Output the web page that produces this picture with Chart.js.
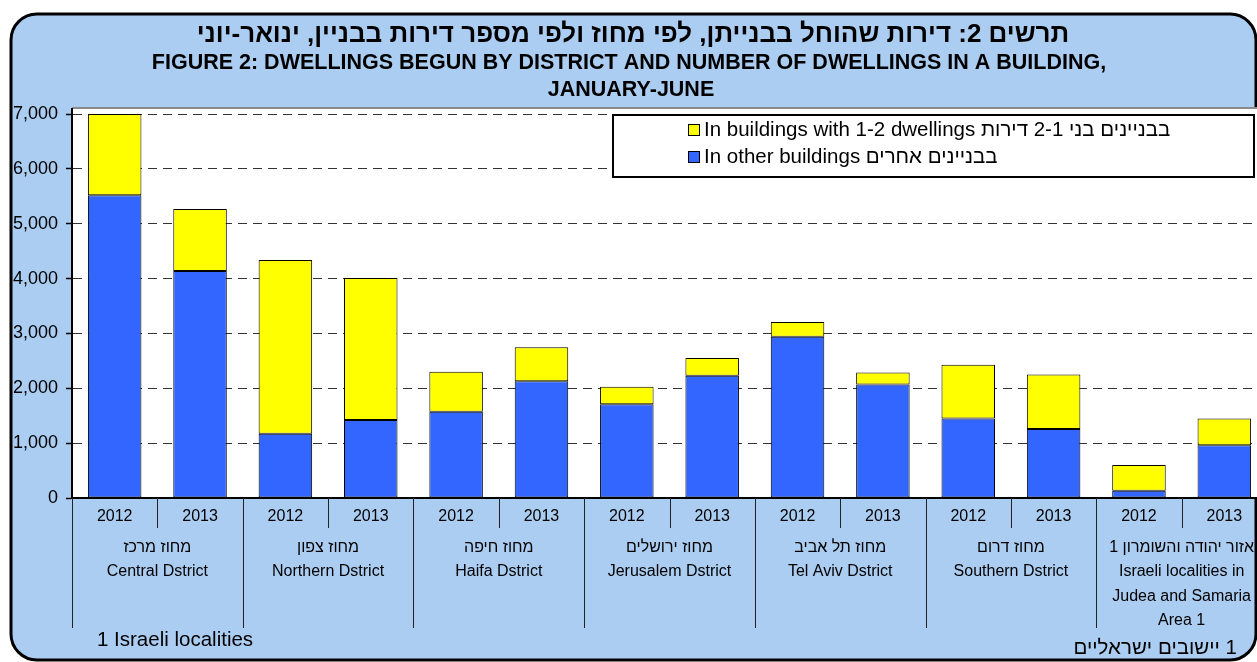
<!DOCTYPE html>
<html><head><meta charset="utf-8">
<script src="https://cdn.jsdelivr.net/npm/chart.js@4/dist/chart.umd.min.js"></script>
<style>
html,body{margin:0;padding:0;overflow:hidden;background:#fff;width:1257px;height:662px;}
#wrap{position:absolute;left:0;top:0;width:1268px;height:662px;}
</style></head><body>
<div id="wrap"><canvas id="c"></canvas></div>
<script>
const years = ['2012','2013','2012','2013','2012','2013','2012','2013','2012','2013','2012','2013','2012','2013'];
const districts = [
  ['מחוז מרכז','Central Dstrict'],
  ['מחוז צפון','Northern Dstrict'],
  ['מחוז חיפה','Haifa Dstrict'],
  ['מחוז ירושלים','Jerusalem Dstrict'],
  ['מחוז תל אביב','Tel Aviv Dstrict'],
  ['מחוז דרום','Southern Dstrict'],
  ['אזור יהודה והשומרון 1','Israeli localities in','Judea and Samaria','Area 1']
];
const otherBuildings = [5520,4140,1170,1420,1570,2130,1710,2230,2940,2070,1450,1260,130,960];
const smallBuildings = [1480,1130,3170,2590,730,620,320,320,270,220,980,990,470,490];
const yTicks = [0,1000,2000,3000,4000,5000,6000,7000];
const legendSmall = 'In buildings with 1-2 dwellings בבניינים בני 2-1 דירות';
const legendOther = 'In other buildings בבניינים אחרים';
const titleHe = 'תרשים 2: דירות שהוחל בבנייתן, לפי מחוז ולפי מספר דירות בבניין, ינואר-יוני';
const titleEn = ['FIGURE 2: DWELLINGS BEGUN BY DISTRICT AND NUMBER OF DWELLINGS IN A BUILDING,','JANUARY-JUNE'];
const footLeft = '1 Israeli localities';
const footRight = '1 יישובים ישראליים';

const FONT = '"Liberation Sans", Arial, sans-serif';
const BG = '#ABCDF1';

const decor = {
  id: 'decor',
  beforeDraw(chart) {
    const ctx = chart.ctx, ca = chart.chartArea;
    ctx.save();
    ctx.fillStyle = '#fff';
    ctx.fillRect(0, 0, chart.width, chart.height);
    const x0 = 11, y0 = 14, x1 = 1256, y1 = 660, r = 26;
    ctx.beginPath();
    ctx.moveTo(x0 + r, y0);
    ctx.lineTo(x1 - r, y0);
    ctx.arcTo(x1, y0, x1, y0 + r, r);
    ctx.lineTo(x1, y1 - r);
    ctx.arcTo(x1, y1, x1 - r, y1, r);
    ctx.lineTo(x0 + r, y1);
    ctx.arcTo(x0, y1, x0, y1 - r, r);
    ctx.lineTo(x0, y0 + r);
    ctx.arcTo(x0, y0, x0 + r, y0, r);
    ctx.closePath();
    ctx.fillStyle = BG;
    ctx.fill();
    ctx.lineWidth = 3;
    ctx.strokeStyle = '#000';
    ctx.stroke();
    ctx.fillStyle = '#fff';
    ctx.fillRect(ca.left, ca.top - 6, chart.width - ca.left, ca.bottom - ca.top + 6);
    ctx.strokeStyle = '#8a8a8a';
    ctx.lineWidth = 2;
    ctx.beginPath();
    ctx.moveTo(ca.left, ca.top - 6);
    ctx.lineTo(chart.width, ca.top - 6);
    ctx.stroke();
    ctx.fillStyle = '#000';
    ctx.textAlign = 'center';
    ctx.textBaseline = 'middle';
    ctx.direction = 'rtl';
    ctx.font = 'bold 26px ' + FONT;
    ctx.fillText(titleHe, 633, 35);
    ctx.direction = 'ltr';
    ctx.font = 'bold 21.5px ' + FONT;
    ctx.fillText(titleEn[0], 629, 63);
    ctx.fillText(titleEn[1], 631, 90);
    ctx.restore();
  },
  afterDraw(chart) {
    const ctx = chart.ctx, ca = chart.chartArea;
    const xs = chart.scales.x;
    const w = xs.getPixelForValue(1) - xs.getPixelForValue(0);
    ctx.save();
    ctx.strokeStyle = '#000';
    ctx.lineWidth = 2;
    ctx.beginPath();
    ctx.moveTo(ca.left, ca.top - 6);
    ctx.lineTo(ca.left, ca.bottom);
    ctx.stroke();
    ctx.lineWidth = 1;
    ctx.strokeStyle = '#222';
    for (let i = 0; i < years.length; i++) {
      const bx = Math.round(xs.getPixelForValue(i) - w / 2) + 0.5;
      const long = i % 2 === 0;
      ctx.beginPath();
      ctx.moveTo(bx, ca.bottom);
      ctx.lineTo(bx, long ? ca.bottom + 130 : ca.bottom + 30);
      ctx.stroke();
    }
    const lx = 613, ly = 115, lw = 641, lh = 62;
    ctx.fillStyle = '#fff';
    ctx.fillRect(lx, ly, lw, lh);
    ctx.strokeStyle = '#000';
    ctx.lineWidth = 2;
    ctx.strokeRect(lx, ly, lw, lh);
    const items = [
      {label: chart.data.datasets[1].label, color: chart.data.datasets[1].backgroundColor, y: 130},
      {label: chart.data.datasets[0].label, color: chart.data.datasets[0].backgroundColor, y: 157}
    ];
    ctx.font = '20.5px ' + FONT;
    ctx.textBaseline = 'middle';
    ctx.textAlign = 'left';
    items.forEach(it => {
      ctx.fillStyle = it.color;
      ctx.fillRect(688, it.y - 6, 11, 11);
      ctx.lineWidth = 1;
      ctx.strokeStyle = '#000';
      ctx.strokeRect(688.5, it.y - 5.5, 11, 11);
      ctx.fillStyle = '#000';
      ctx.fillText(it.label, 704, it.y);
    });
    ctx.font = '20.5px ' + FONT;
    ctx.textAlign = 'left';
    ctx.fillText(footLeft, 97, 640);
    ctx.direction = 'rtl';
    ctx.textAlign = 'right';
    ctx.fillText(footRight, 1237, 648);
    ctx.restore();
  }
};

new Chart(document.getElementById('c'), {
  type: 'bar',
  data: {
    labels: years,
    datasets: [
      {label: legendOther, data: otherBuildings, backgroundColor: '#3366FF', borderColor: '#000', borderWidth: 1, borderSkipped: false, stack: 's'},
      {label: legendSmall, data: smallBuildings, backgroundColor: '#FFFF00', borderColor: '#000', borderWidth: 1, borderSkipped: false, stack: 's'}
    ]
  },
  options: {
    responsive: true,
    maintainAspectRatio: false,
    animation: false,
    devicePixelRatio: 1,
    datasets: {bar: {categoryPercentage: 1, barPercentage: 0.627}},
    layout: {padding: {left: 6, right: 1, top: 114, bottom: 26}},
    plugins: {legend: {display: false}, tooltip: {enabled: false}, title: {display: false}},
    scales: {
      x: {
        type: 'category', position: 'bottom', stacked: true, offset: true, weight: 0,
        grid: {display: false, drawTicks: false},
        border: {display: true, color: '#000', width: 2},
        ticks: {color: '#000', font: {family: FONT, size: 16}, padding: 9, autoSkip: false, maxRotation: 0},
        afterFit: s => { s.height = 30; }
      },
      x2: {
        type: 'category', position: 'bottom', labels: districts, offset: true, weight: 1,
        grid: {display: false, drawTicks: false},
        border: {display: false},
        ticks: {color: '#000', font: {family: FONT, size: 16, lineHeight: 1.53}, padding: 7, autoSkip: false, maxRotation: 0},
        afterFit: s => { s.height = 108; }
      },
      y: {
        stacked: true, min: 0, max: 7000,
        afterBuildTicks: s => { s.ticks = yTicks.map(v => ({value: v})); },
        grid: {color: '#333', lineWidth: 1, tickLength: 6, tickColor: '#000', tickWidth: 1.5, tickBorderDash: []},
        border: {display: true, color: '#000', width: 2, dash: [9, 6]},
        ticks: {color: '#000', font: {family: FONT, size: 18}, padding: 8, callback: v => v.toLocaleString('en-US')},
        afterFit: s => { s.width = 66; }
      }
    }
  },
  plugins: [decor]
});
</script>
</body></html>
